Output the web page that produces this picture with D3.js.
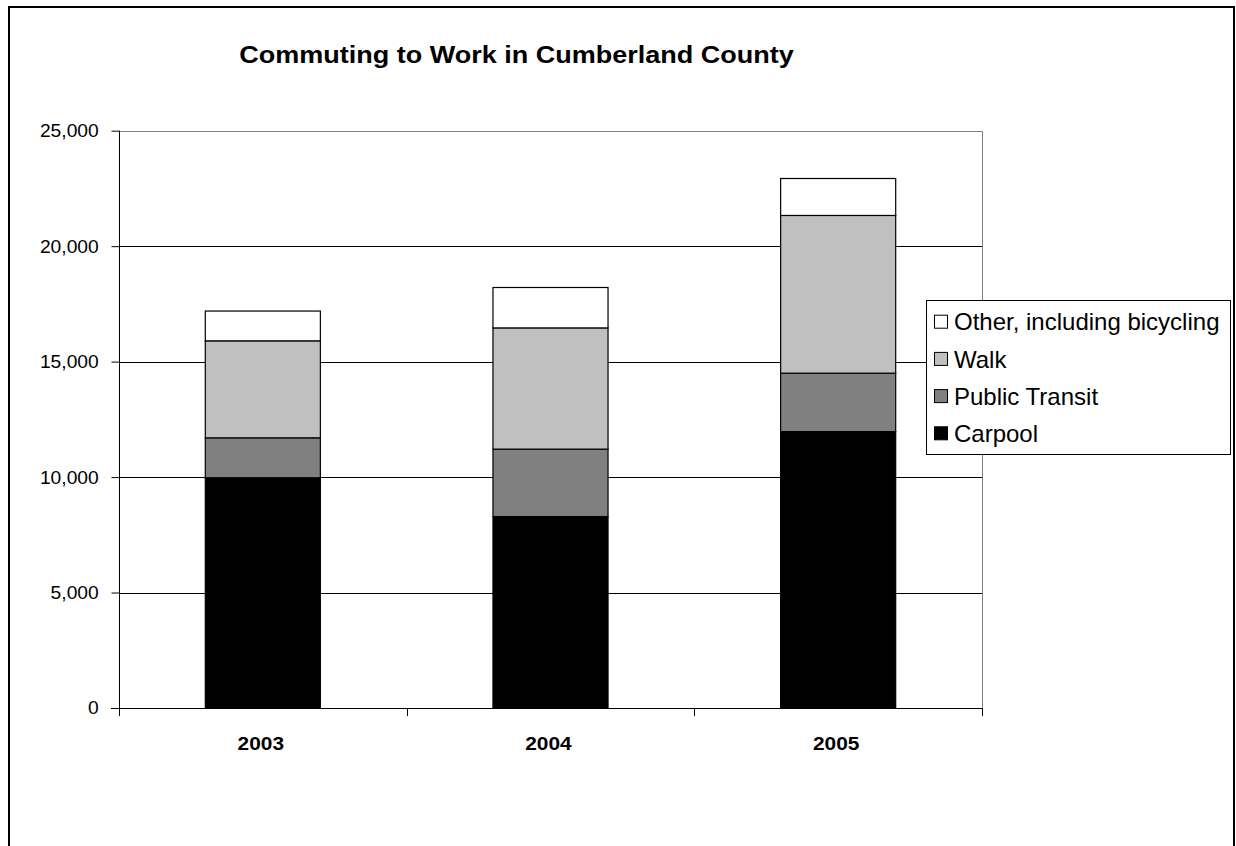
<!DOCTYPE html>
<html>
<head>
<meta charset="utf-8">
<script src="https://cdn.jsdelivr.net/npm/d3@7"></script>
<style>
  html, body { margin: 0; padding: 0; background: #fff; }
  svg { display: block; font-family: Arial, "Liberation Sans", sans-serif; }
</style>
</head>
<body>
<svg id="chart" width="1236" height="846"></svg>
<script>
// Commuters by mode, Cumberland County
const years = ["2003", "2004", "2005"];
const carpool = [9970, 8290, 11970];
const publicTransit = [1730, 2920, 2530];
const walk = [4200, 5250, 6830];
const other = [1290, 1750, 1600];
const seriesNames = ["Carpool", "Public Transit", "Walk", "Other, including bicycling"];
const seriesColors = ["#000000", "#808080", "#C0C0C0", "#FFFFFF"];
const yTicks = [0, 5000, 10000, 15000, 20000, 25000];
const chartTitle = "Commuting to Work in Cumberland County";

const rows = years.map((y, i) => ({
  year: y,
  "Carpool": carpool[i],
  "Public Transit": publicTransit[i],
  "Walk": walk[i],
  "Other, including bicycling": other[i]
}));

const svg = d3.select("#chart");
const plot = { left: 119, right: 982, top: 130.7, bottom: 708 };

// outer chart frame
svg.append("rect")
  .attr("x", 9).attr("y", 7)
  .attr("width", 1225).attr("height", 860)
  .attr("fill", "#fff").attr("stroke", "#000").attr("stroke-width", 2);

const x = d3.scaleBand().domain(years)
  .range([plot.left, plot.right])
  .paddingInner(0.6).paddingOuter(0.3);
const y = d3.scaleLinear().domain([0, 25000]).range([plot.bottom, plot.top]);

// horizontal gridlines
svg.append("g")
  .selectAll("line")
  .data(yTicks.filter(t => t > 0 && t < 25000))
  .join("line")
  .attr("x1", plot.left).attr("x2", plot.right)
  .attr("y1", d => Math.round(y(d)) + 0.5).attr("y2", d => Math.round(y(d)) + 0.5)
  .attr("stroke", "#000").attr("stroke-width", 1);

// plot area border (top and right)
svg.append("path")
  .attr("d", `M${plot.left},${Math.round(plot.top) + 0.5}H${plot.right + 0.5}V${plot.bottom}`)
  .attr("fill", "none").attr("stroke", "#808080").attr("stroke-width", 1);

// stacked bars
const stack = d3.stack().keys(seriesNames);
const layers = stack(rows);
svg.append("g")
  .selectAll("g")
  .data(layers)
  .join("g")
  .attr("fill", (d, i) => seriesColors[i])
  .selectAll("rect")
  .data(d => d)
  .join("rect")
  .attr("x", d => x(d.data.year))
  .attr("width", x.bandwidth())
  .attr("y", d => y(d[1]))
  .attr("height", d => y(d[0]) - y(d[1]))
  .attr("stroke", "#000").attr("stroke-width", 1.2);

// y axis
const yAxis = svg.append("g")
  .attr("transform", `translate(${plot.left + 0.5},0)`)
  .call(d3.axisLeft(y).tickValues(yTicks).tickFormat(d3.format(",")).tickSize(8).tickPadding(12));
yAxis.select(".domain").attr("stroke", "#000").attr("d", `M0,${plot.top}V${plot.bottom}`);
yAxis.selectAll(".tick line").attr("stroke", "#000");
yAxis.selectAll(".tick text")
  .attr("font-size", 18.5)
  .attr("font-family", "Arial, 'Liberation Sans', sans-serif")
  .attr("fill", "#000")
  .attr("transform", "scale(1.04,1)");

// x axis: tick marks at category boundaries, labels at centers
const xAxisLine = svg.append("g");
xAxisLine.append("line")
  .attr("x1", plot.left - 8).attr("x2", plot.right)
  .attr("y1", plot.bottom + 0.5).attr("y2", plot.bottom + 0.5)
  .attr("stroke", "#000");
const boundaries = d3.range(years.length + 1).map(i => plot.left + i * x.step());
xAxisLine.selectAll(".bt")
  .data(boundaries)
  .join("line")
  .attr("x1", d => Math.round(d) + 0.5).attr("x2", d => Math.round(d) + 0.5)
  .attr("y1", plot.bottom).attr("y2", plot.bottom + 8)
  .attr("stroke", "#000");

const xAxis = svg.append("g")
  .attr("transform", `translate(0,${plot.bottom})`)
  .call(d3.axisBottom(x).tickSize(0).tickPadding(29));
xAxis.select(".domain").remove();
xAxis.selectAll(".tick text")
  .attr("font-size", 19)
  .attr("font-weight", "bold")
  .attr("font-family", "Arial, 'Liberation Sans', sans-serif")
  .attr("fill", "#000")
  .attr("transform", "scale(1.1,1)");
xAxis.selectAll(".tick").attr("transform", d => `translate(${x(d) + x.bandwidth() / 2 - 2},0)`);

// title
svg.append("text")
  .attr("transform", "translate(516.5,63) scale(1.15,1)")
  .attr("text-anchor", "middle")
  .attr("font-size", 23.5)
  .attr("font-weight", "bold")
  .text(chartTitle);

// legend (series listed top-down in reverse stacking order)
const legend = svg.append("g").attr("transform", "translate(926,300)");
legend.append("rect")
  .attr("x", 0.5).attr("y", 0.5).attr("width", 304).attr("height", 154)
  .attr("fill", "#fff").attr("stroke", "#000").attr("stroke-width", 1);
const legendItems = seriesNames.map((n, i) => ({ name: n, color: seriesColors[i] })).reverse();
const li = legend.selectAll(".item")
  .data(legendItems)
  .join("g")
  .attr("class", "item")
  .attr("transform", (d, i) => `translate(0,${21.7 + i * 37.2})`);
li.append("rect")
  .attr("x", 8.5).attr("y", -6.5).attr("width", 13).attr("height", 13)
  .attr("fill", d => d.color).attr("stroke", "#000").attr("stroke-width", 1);
li.append("text")
  .attr("x", 28).attr("y", 0).attr("dy", "0.36em")
  .attr("font-size", 24)
  .attr("fill", "#000")
  .text(d => d.name);
</script>
</body>
</html>
